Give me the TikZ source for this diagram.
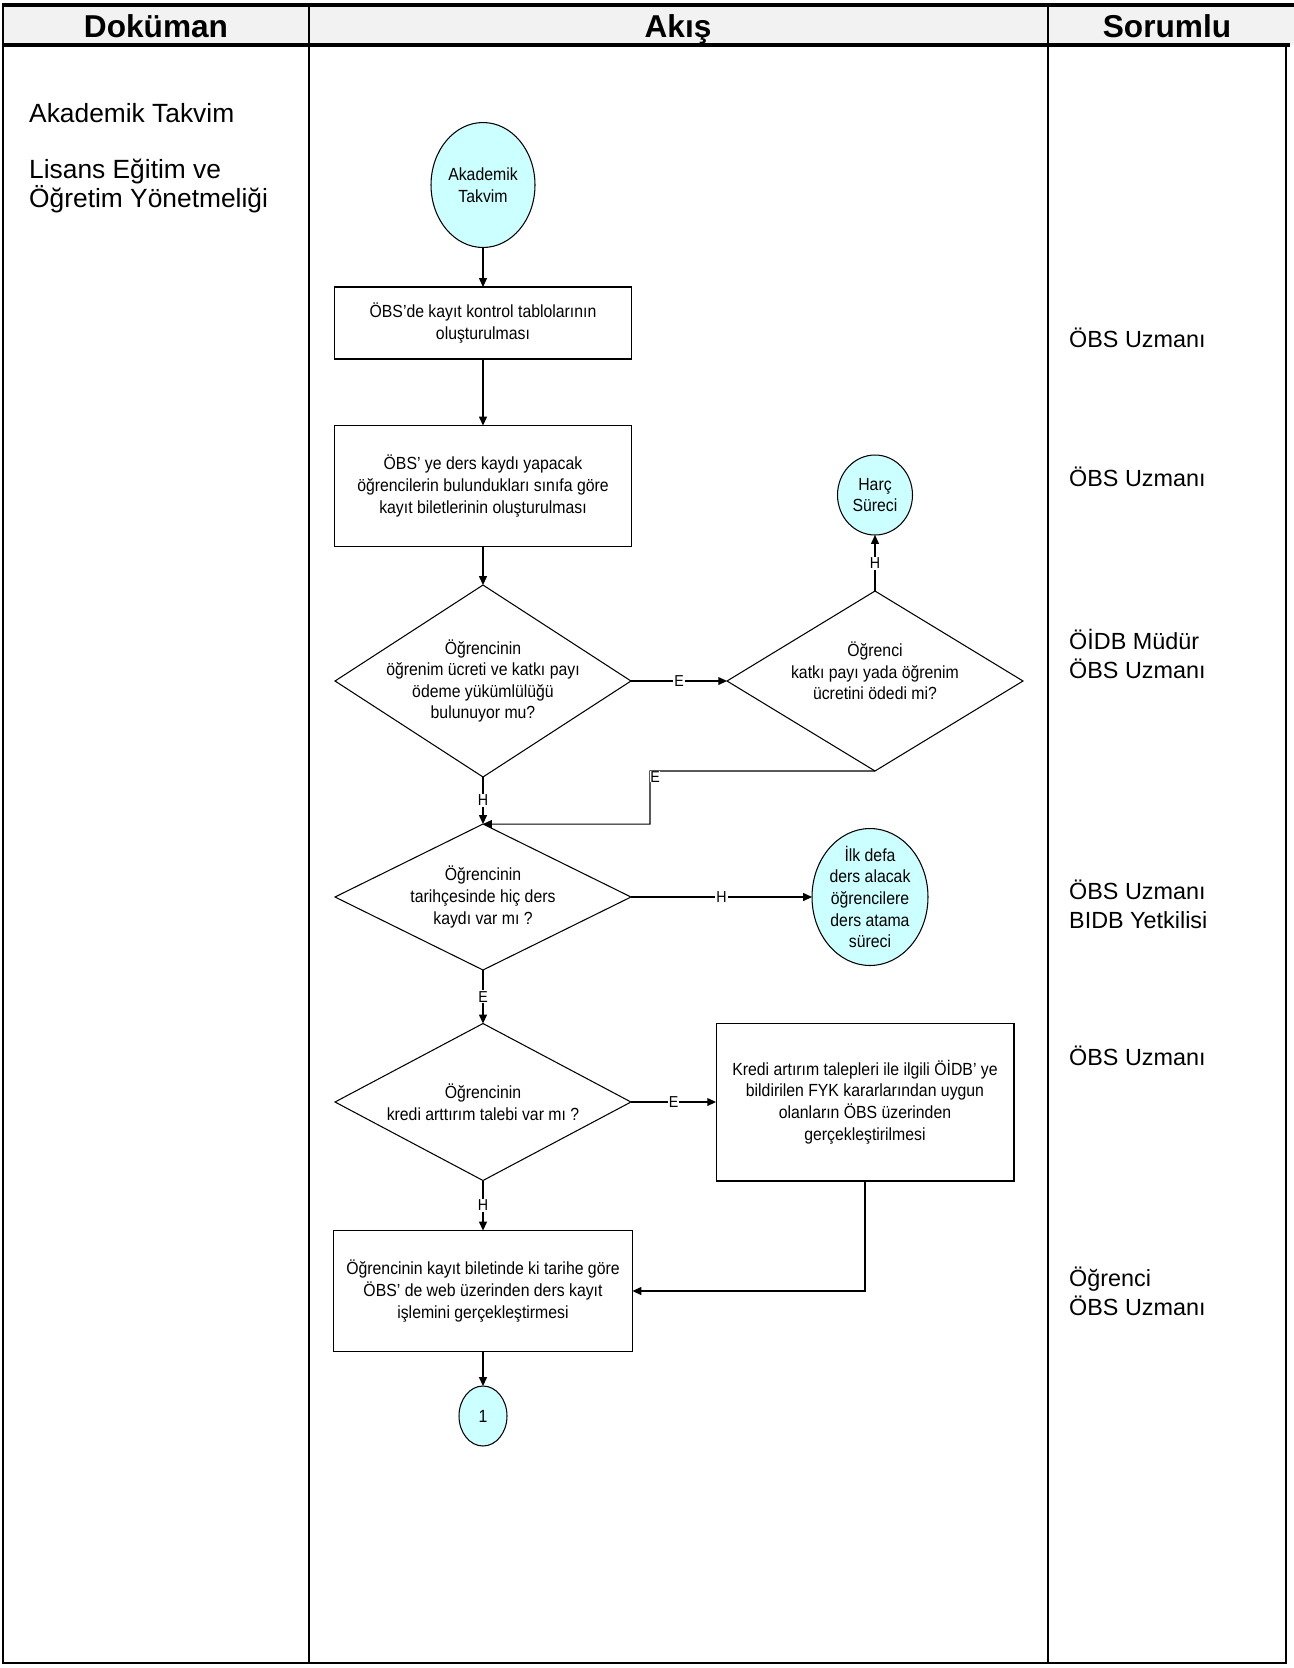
\documentclass[tikz,border=0pt]{standalone}
\usepackage{fontspec}
\setmainfont{Liberation Sans}
\newfontfamily\narrowfont[FakeStretch=0.9]{Liberation Sans}
\usetikzlibrary{shapes.geometric,arrows.meta}

\definecolor{termfill}{HTML}{CCFFFF}
\definecolor{headfill}{HTML}{F2F2F2}
\newcommand{\flowfont}{\narrowfont\fontsize{10}{12.3}\selectfont}
\newcommand{\lblfont}{\narrowfont\fontsize{9}{10}\selectfont}

\begin{document}
\begin{tikzpicture}[x=0.02cm,y=-0.02cm,
  flow/.style={line width=0.6pt,-{Triangle[length=5pt,width=4.5pt]}},
  box/.style={draw,line width=0.6pt,align=center,inner sep=2pt,outer sep=0pt,font=\flowfont},
  dia/.style={draw,diamond,line width=0.6pt,inner sep=0pt,outer sep=0pt},
  ell/.style={draw,ellipse,fill=termfill,line width=0.6pt,inner sep=0pt,outer sep=0pt},
  txt/.style={align=center,font=\flowfont},
  lbl/.style={fill=white,inner sep=0.6pt,font=\lblfont},
  colhead/.style={anchor=base,font=\fontsize{18}{20}\selectfont\bfseries},
  doctext/.style={anchor=west,align=left,font=\fontsize{15}{16.4}\selectfont},
  resptext/.style={anchor=west,align=left,font=\fontsize{13.3}{16.4}\selectfont}]
  \useasboundingbox (0,0) rectangle (1294,1668);

  % table
  \fill[headfill] (3,5) rectangle (1294,45);
  \draw[line width=2.2pt] (2,5) -- (1294,5);
  \draw[line width=2.2pt] (2,45) -- (1290,45);
  \draw[line width=1.1pt] (3,5) -- (3,1663) -- (1286,1663) -- (1286,45);
  \draw[line width=1.4pt] (309,5) -- (309,1663);
  \draw[line width=1.1pt] (1048,5) -- (1048,1663);

  \node[colhead] (hdoc) at (156,37) {Doküman};
  \node[colhead] (hflow) at (678,37) {Akış};
  \node[colhead] (hresp) at (1167,37) {Sorumlu};

  \node[doctext] (doc1) at (23,113) {Akademik Takvim};
  \node[doctext] (doc2) at (23,186) {Lisans Eğitim ve\\Öğretim Yönetmeliği};

  \node[resptext] (resp1) at (1063,338) {ÖBS Uzmanı};
  \node[resptext] (resp2) at (1063,477) {ÖBS Uzmanı};
  \node[resptext] (resp3) at (1063,654) {ÖİDB Müdür\\ÖBS Uzmanı};
  \node[resptext] (resp4) at (1063,904) {ÖBS Uzmanı\\BIDB Yetkilisi};
  \node[resptext] (resp5) at (1063,1056) {ÖBS Uzmanı};
  \node[resptext] (resp6) at (1063,1291) {Öğrenci\\ÖBS Uzmanı};

  % flow
  \node[ell,minimum width=2.08cm,minimum height=2.5cm,label={[txt]center:{Akademik\\Takvim}}] (start) at (483,185) {};
  \node[box,minimum width=5.94cm,minimum height=1.44cm] (tables) at (483,323) {ÖBS’de kayıt kontrol tablolarının\\oluşturulması};
  \node[box,minimum width=5.94cm,minimum height=2.42cm] (tickets) at (483,486) {ÖBS’ ye ders kaydı yapacak\\öğrencilerin bulundukları sınıfa göre\\kayıt biletlerinin oluşturulması};
  \node[dia,minimum width=5.92cm,minimum height=3.84cm,label={[txt]center:{Öğrencinin\\öğrenim ücreti ve katkı payı\\ödeme yükümlülüğü\\bulunuyor mu?}}] (owes) at (483,681) {};
  \node[dia,minimum width=5.92cm,minimum height=3.6cm,label={[txt,yshift=0.2cm]center:{Öğrenci\\katkı payı yada öğrenim\\ücretini ödedi mi?}}] (paid) at (875,681) {};
  \node[ell,minimum width=1.5cm,minimum height=1.6cm,label={[txt]center:{Harç\\Süreci}}] (fee) at (875,495) {};
  \node[dia,minimum width=5.92cm,minimum height=2.92cm,label={[txt]center:{Öğrencinin\\tarihçesinde hiç ders\\kaydı var mı ?}}] (history) at (483,897) {};
  \node[ell,minimum width=2.32cm,minimum height=2.74cm,label={[txt]center:{İlk defa\\ders alacak\\öğrencilere\\ders atama\\süreci}}] (first) at (870,897) {};
  \node[dia,minimum width=5.92cm,minimum height=3.14cm,label={[txt]center:{Öğrencinin\\kredi arttırım talebi var mı ?}}] (credit) at (483,1102) {};
  \node[box,minimum width=5.96cm,minimum height=3.16cm] (fyk) at (865,1102) {Kredi artırım talepleri ile ilgili ÖİDB’ ye\\bildirilen FYK kararlarından uygun\\olanların ÖBS üzerinden\\gerçekleştirilmesi};
  \node[box,minimum width=5.98cm,minimum height=2.42cm] (register) at (483,1291) {Öğrencinin kayıt biletinde ki tarihe göre\\ÖBS’ de web üzerinden ders kayıt\\işlemini gerçekleştirmesi};
  \node[ell,minimum width=0.96cm,minimum height=1.2cm,label={[txt]center:1}] (next) at (483,1416) {};

  \coordinate (back) at (650,771);

  \draw[flow] (start) -- (tables);
  \draw[flow] (tables) -- (tickets);
  \draw[flow] (tickets) -- (owes);
  \draw[flow] (owes.east) -- node[lbl] {E} (paid.west);
  \draw[flow] (paid.north) -- node[lbl] {H} (fee.south);
  \draw[flow] (paid.south) -- (back) |- (history.north);
  \node[lbl,anchor=north west,inner sep=0pt] (backlbl) at (back) {E};
  \draw[flow] (owes.south) -- node[lbl] {H} (history.north);
  \draw[flow] (history.east) -- node[lbl] {H} (first.west);
  \draw[flow] (history.south) -- node[lbl] {E} (credit.north);
  \draw[flow] (credit.east) -- node[lbl] {E} (fyk.west);
  \draw[flow] (credit.south) -- node[lbl] {H} (register.north);
  \draw[flow] (fyk.south) |- (register.east);
  \draw[flow] (register) -- (next);

\end{tikzpicture}
\end{document}
